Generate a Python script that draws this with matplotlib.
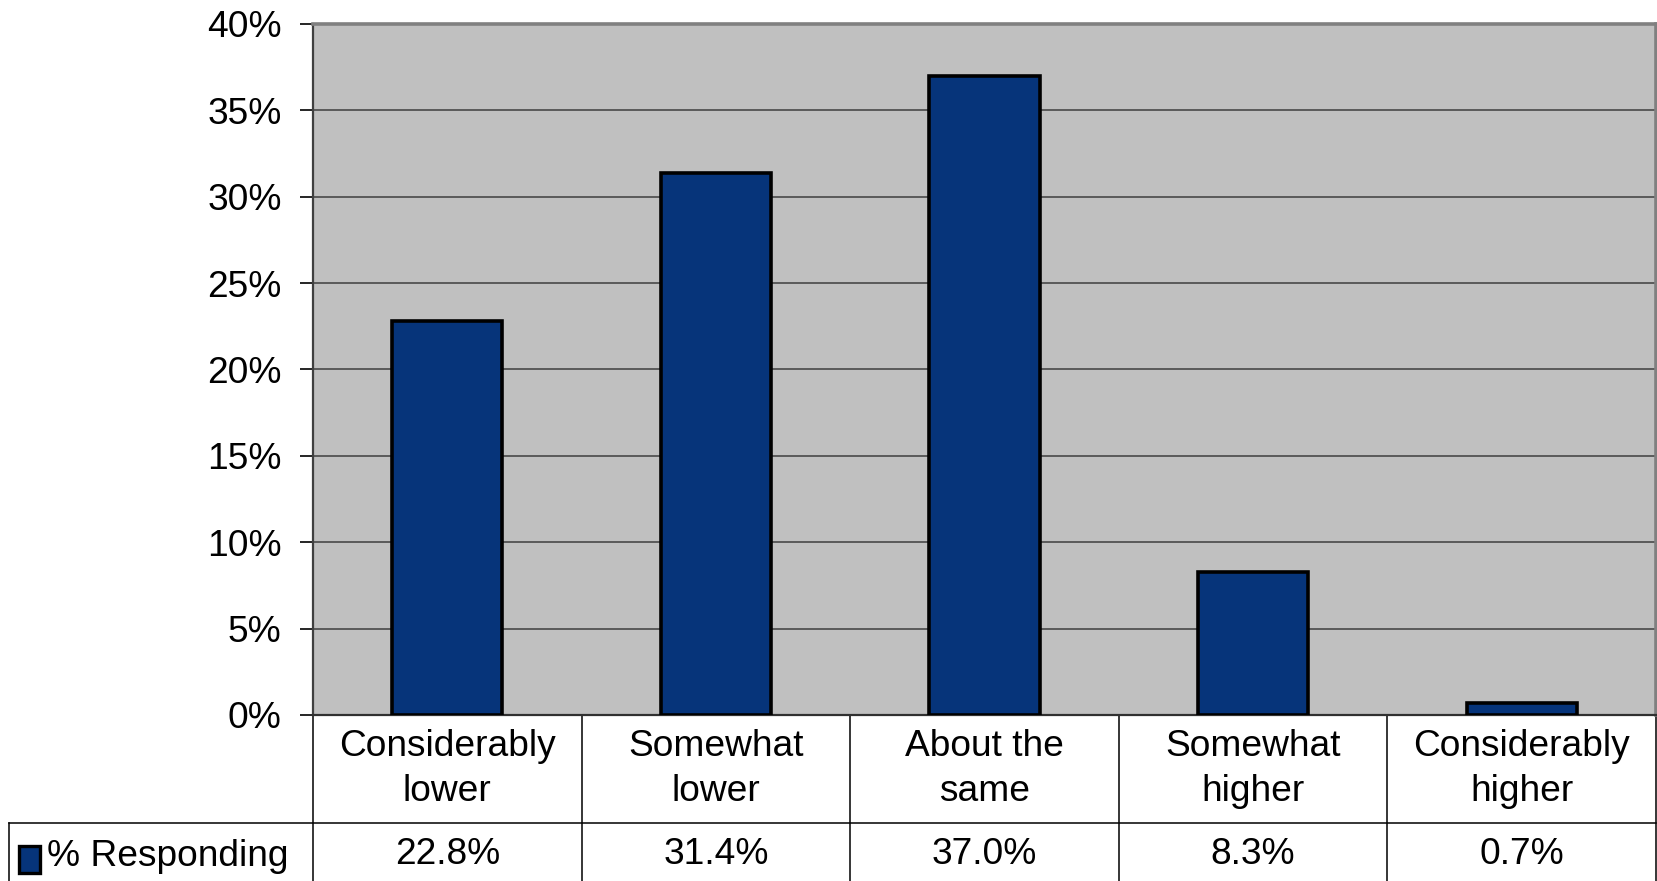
import numpy as np
import matplotlib.pyplot as plt
from matplotlib.transforms import blended_transform_factory
from matplotlib.patches import Rectangle

plt.rcParams['font.family'] = ['Liberation Sans', 'DejaVu Sans']

categories = ['Considerably\nlower', 'Somewhat\nlower', 'About the\nsame',
              'Somewhat\nhigher', 'Considerably\nhigher']
responding = [22.8, 31.4, 37.0, 8.3, 0.7]
series_name = '% Responding'
yticks = [0, 5, 10, 15, 20, 25, 30, 35, 40]

bar_color = '#06347A'
fs = 26.7
W, H = 1658, 881

fig = plt.figure(figsize=(W / 100, H / 100), dpi=100)
left, right, top, bottom = 313, 1656, 24, 715
ax = fig.add_axes([left / W, 1 - bottom / H, (right - left) / W, (bottom - top) / H])
ax.set_facecolor('#C0C0C0')

x = np.arange(len(categories))
ax.bar(x, responding, width=0.41, color=bar_color, edgecolor='black', linewidth=2.6, zorder=3)

ax.set_xlim(-0.5, len(categories) - 0.5)
ax.set_ylim(0, 40)
ax.set_yticks(yticks)
ax.set_yticklabels([f'{t}%' for t in yticks], fontsize=fs)
ax.tick_params(axis='y', length=9.5, width=1.2, pad=13, direction='out')
ax.set_xticks([])
ax.yaxis.grid(True, color='#5A5A5A', linewidth=1.4, zorder=1)
ax.set_axisbelow(True)

for side in ['top', 'right']:
    ax.spines[side].set_color('#808080')
    ax.spines[side].set_linewidth(2.6)
ax.spines['left'].set_color('#404040')
ax.spines['left'].set_linewidth(1.6)
ax.spines['bottom'].set_color('#303030')
ax.spines['bottom'].set_linewidth(1.6)

# data table under the axis
tr = blended_transform_factory(ax.transData, ax.transAxes)
ph = bottom - top
row1 = -(823 - bottom) / ph
row2 = -(H - bottom) / ph
left_edge = (9 - left) / (right - left) * len(categories) - 0.5

line_kw = dict(color='black', linewidth=1.1, transform=tr, clip_on=False)
ax.plot([left_edge, len(categories) - 0.5], [row1, row1], **line_kw)
ax.plot([left_edge, left_edge], [row1, row2], **line_kw)
for b in np.arange(len(categories) + 1) - 0.5:
    ax.plot([b, b], [0, row2], **line_kw)

val_y = -(855 - bottom) / ph
for i, (cat, val) in enumerate(zip(categories, responding)):
    ax.text(i, -(769 - bottom) / ph, cat, ha='center', va='center', fontsize=fs,
            linespacing=1.35, transform=tr, clip_on=False)
    ax.text(i, val_y, f'{val:.1f}%', ha='center', va='center',
            fontsize=fs, transform=tr, clip_on=False)

# legend key in the series row
fig.patches.append(Rectangle((19 / W, 1 - 873 / H), 21 / W, 27 / H, transform=fig.transFigure,
                             facecolor=bar_color, edgecolor='black', linewidth=2.4))
fig.text(47 / W, 1 - 857 / H, series_name, ha='left', va='center', fontsize=fs)

fig.savefig('out.png', dpi=100)
